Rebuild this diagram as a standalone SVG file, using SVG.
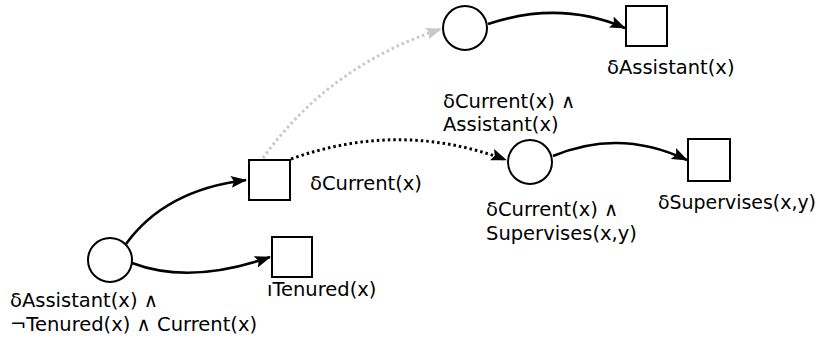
<svg xmlns="http://www.w3.org/2000/svg" width="820" height="338" viewBox="0 0 820 338">
<defs>
<marker id="ab" viewBox="0 0 16 12" refX="15" refY="6" markerWidth="16" markerHeight="12" markerUnits="userSpaceOnUse" orient="auto"><path d="M0,0 L16,6 L0,12 L3,6 Z" fill="#000"/></marker>
<marker id="ag" viewBox="0 0 16 12" refX="15" refY="6" markerWidth="16" markerHeight="12" markerUnits="userSpaceOnUse" orient="auto"><path d="M0,0 L16,6 L0,12 L3,6 Z" fill="#c8c8c8"/></marker>
</defs>
<style>
.n{fill:#fff;stroke:#000;stroke-width:2}
.t{font-family:"DejaVu Sans",Verdana,sans-serif;font-size:19.5px;fill:#000}
.e{fill:none;stroke:#000;stroke-width:2.6}
.d{stroke-width:3;stroke-dasharray:2.5 3}
.g{stroke:#c8c8c8}
</style>
<rect width="820" height="338" fill="#fff"/>
<g id="connectors">
<path class="e" d="M126,244 Q165,190 246,180" marker-end="url(#ab)"/>
<path class="e" d="M132,263 Q190,285 270,257" marker-end="url(#ab)"/>
<path class="e d g" d="M263,158 Q330,65 441,29" marker-end="url(#ag)"/>
<path class="e d" d="M291,159 Q400,120 506,160" marker-end="url(#ab)"/>
<path class="e" d="M488,24 Q560,0 625,28" marker-end="url(#ab)"/>
<path class="e" d="M553,156 Q620,128 687,160" marker-end="url(#ab)"/>
</g>
<g id="n1"><circle class="n" cx="110" cy="260" r="22"/>
<text class="t" x="10" y="307">δAssistant(x) ∧</text>
<text class="t" x="10" y="331">¬Tenured(x) ∧ Current(x)</text></g>
<g id="n2"><rect class="n" x="249" y="160" width="41" height="40"/>
<text class="t" x="310" y="190">δCurrent(x)</text></g>
<g id="n3"><rect class="n" x="272" y="237" width="40" height="40"/>
<text class="t" x="267" y="296">ıTenured(x)</text></g>
<g id="n4"><circle class="n" cx="465" cy="28" r="22"/>
<text class="t" x="443" y="108">δCurrent(x) ∧</text>
<text class="t" x="443" y="131">Assistant(x)</text></g>
<g id="n5"><rect class="n" x="626" y="6" width="41" height="40"/>
<text class="t" x="607" y="74">δAssistant(x)</text></g>
<g id="n6"><circle class="n" cx="530" cy="162" r="22"/>
<text class="t" x="486" y="216">δCurrent(x) ∧</text>
<text class="t" x="486" y="240">Supervises(x,y)</text></g>
<g id="n7"><rect class="n" x="688" y="139" width="42" height="42"/>
<text class="t" x="658" y="209" textLength="158" lengthAdjust="spacingAndGlyphs">δSupervises(x,y)</text></g>
</svg>
